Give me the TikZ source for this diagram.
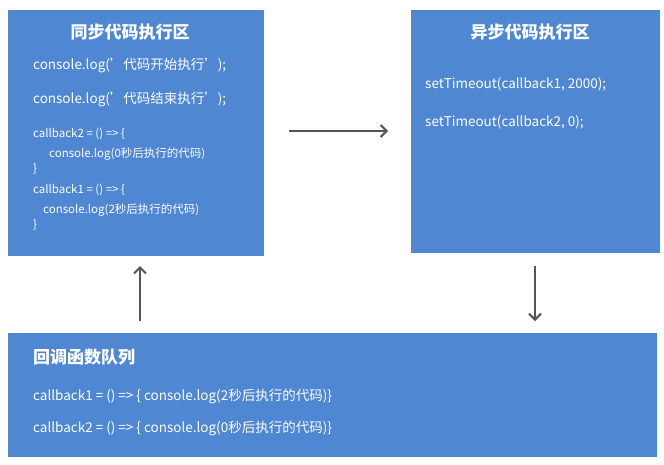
\documentclass[tikz,border=0pt]{standalone}
\usepackage{fontspec}
\setmainfont{Noto Sans CJK SC}
\usetikzlibrary{arrows.meta}
\definecolor{boxblue}{HTML}{4F87D2}
\definecolor{arr}{HTML}{555555}
\tikzset{
  panel/.style={fill=boxblue,draw=none},
  ttl/.style={text=white,font=\bfseries\fontsize{17}{20}\selectfont,inner sep=0},
  big/.style={text=white,font=\fontsize{13.5}{16}\selectfont,anchor=west,inner sep=0},
  small/.style={text=white,font=\fontsize{11.5}{13}\selectfont,anchor=west,inner sep=0},
  flow/.style={draw=arr,line width=2pt,-{Straight Barb[length=6pt,width=12pt]}}
}
\begin{document}
\begin{tikzpicture}[x=1pt,y=-1pt]
\useasboundingbox (0,0) rectangle (664,464);
\fill[white] (0,0) rectangle (664,464);
\node[panel,minimum width=256pt,minimum height=246pt,anchor=north west,inner sep=0] (sync) at (8,10) {};
\node[panel,minimum width=249pt,minimum height=243pt,anchor=north west,inner sep=0] (async) at (411,10) {};
\node[panel,minimum width=649pt,minimum height=124pt,anchor=north west,inner sep=0] (queue) at (8,333) {};
\node[ttl] (t1) at (130,32) {同步代码执行区};
\node[big] (s1) at (33,65) {console.log('代码开始执行');};
\node[big] (s2) at (33,99) {console.log('代码结束执行');};
\node[small] (s3) at (33,134) {callback2 = () => \{};
\node[small] (s4) at (49,154) {console.log(0秒后执行的代码)};
\node[small] (s5) at (33,169) {\}};
\node[small] (s6) at (33,190) {callback1 = () => \{};
\node[small] (s7) at (43,210) {console.log(2秒后执行的代码)};
\node[small] (s8) at (33,225) {\}};
\node[ttl] (t2) at (530,32) {异步代码执行区};
\node[big] (a1) at (425,84) {setTimeout(callback1, 2000);};
\node[big] (a2) at (425,122) {setTimeout(callback2, 0);};
\node[ttl,anchor=west] (t3) at (33,357) {回调函数队列};
\node[big] (q1) at (33,396) {callback1 = () => \{ console.log(2秒后执行的代码)\}};
\node[big] (q2) at (33,428) {callback2 = () => \{ console.log(0秒后执行的代码)\}};
\coordinate (h1) at (289,131); \coordinate (h2) at (388,131);
\coordinate (d1) at (535,266); \coordinate (d2) at (535,321);
\coordinate (u1) at (140,321); \coordinate (u2) at (140,266);
\draw[flow] (h1) -- (h2);
\draw[flow] (d1) -- (d2);
\draw[flow] (u1) -- (u2);
\end{tikzpicture}
\end{document}
